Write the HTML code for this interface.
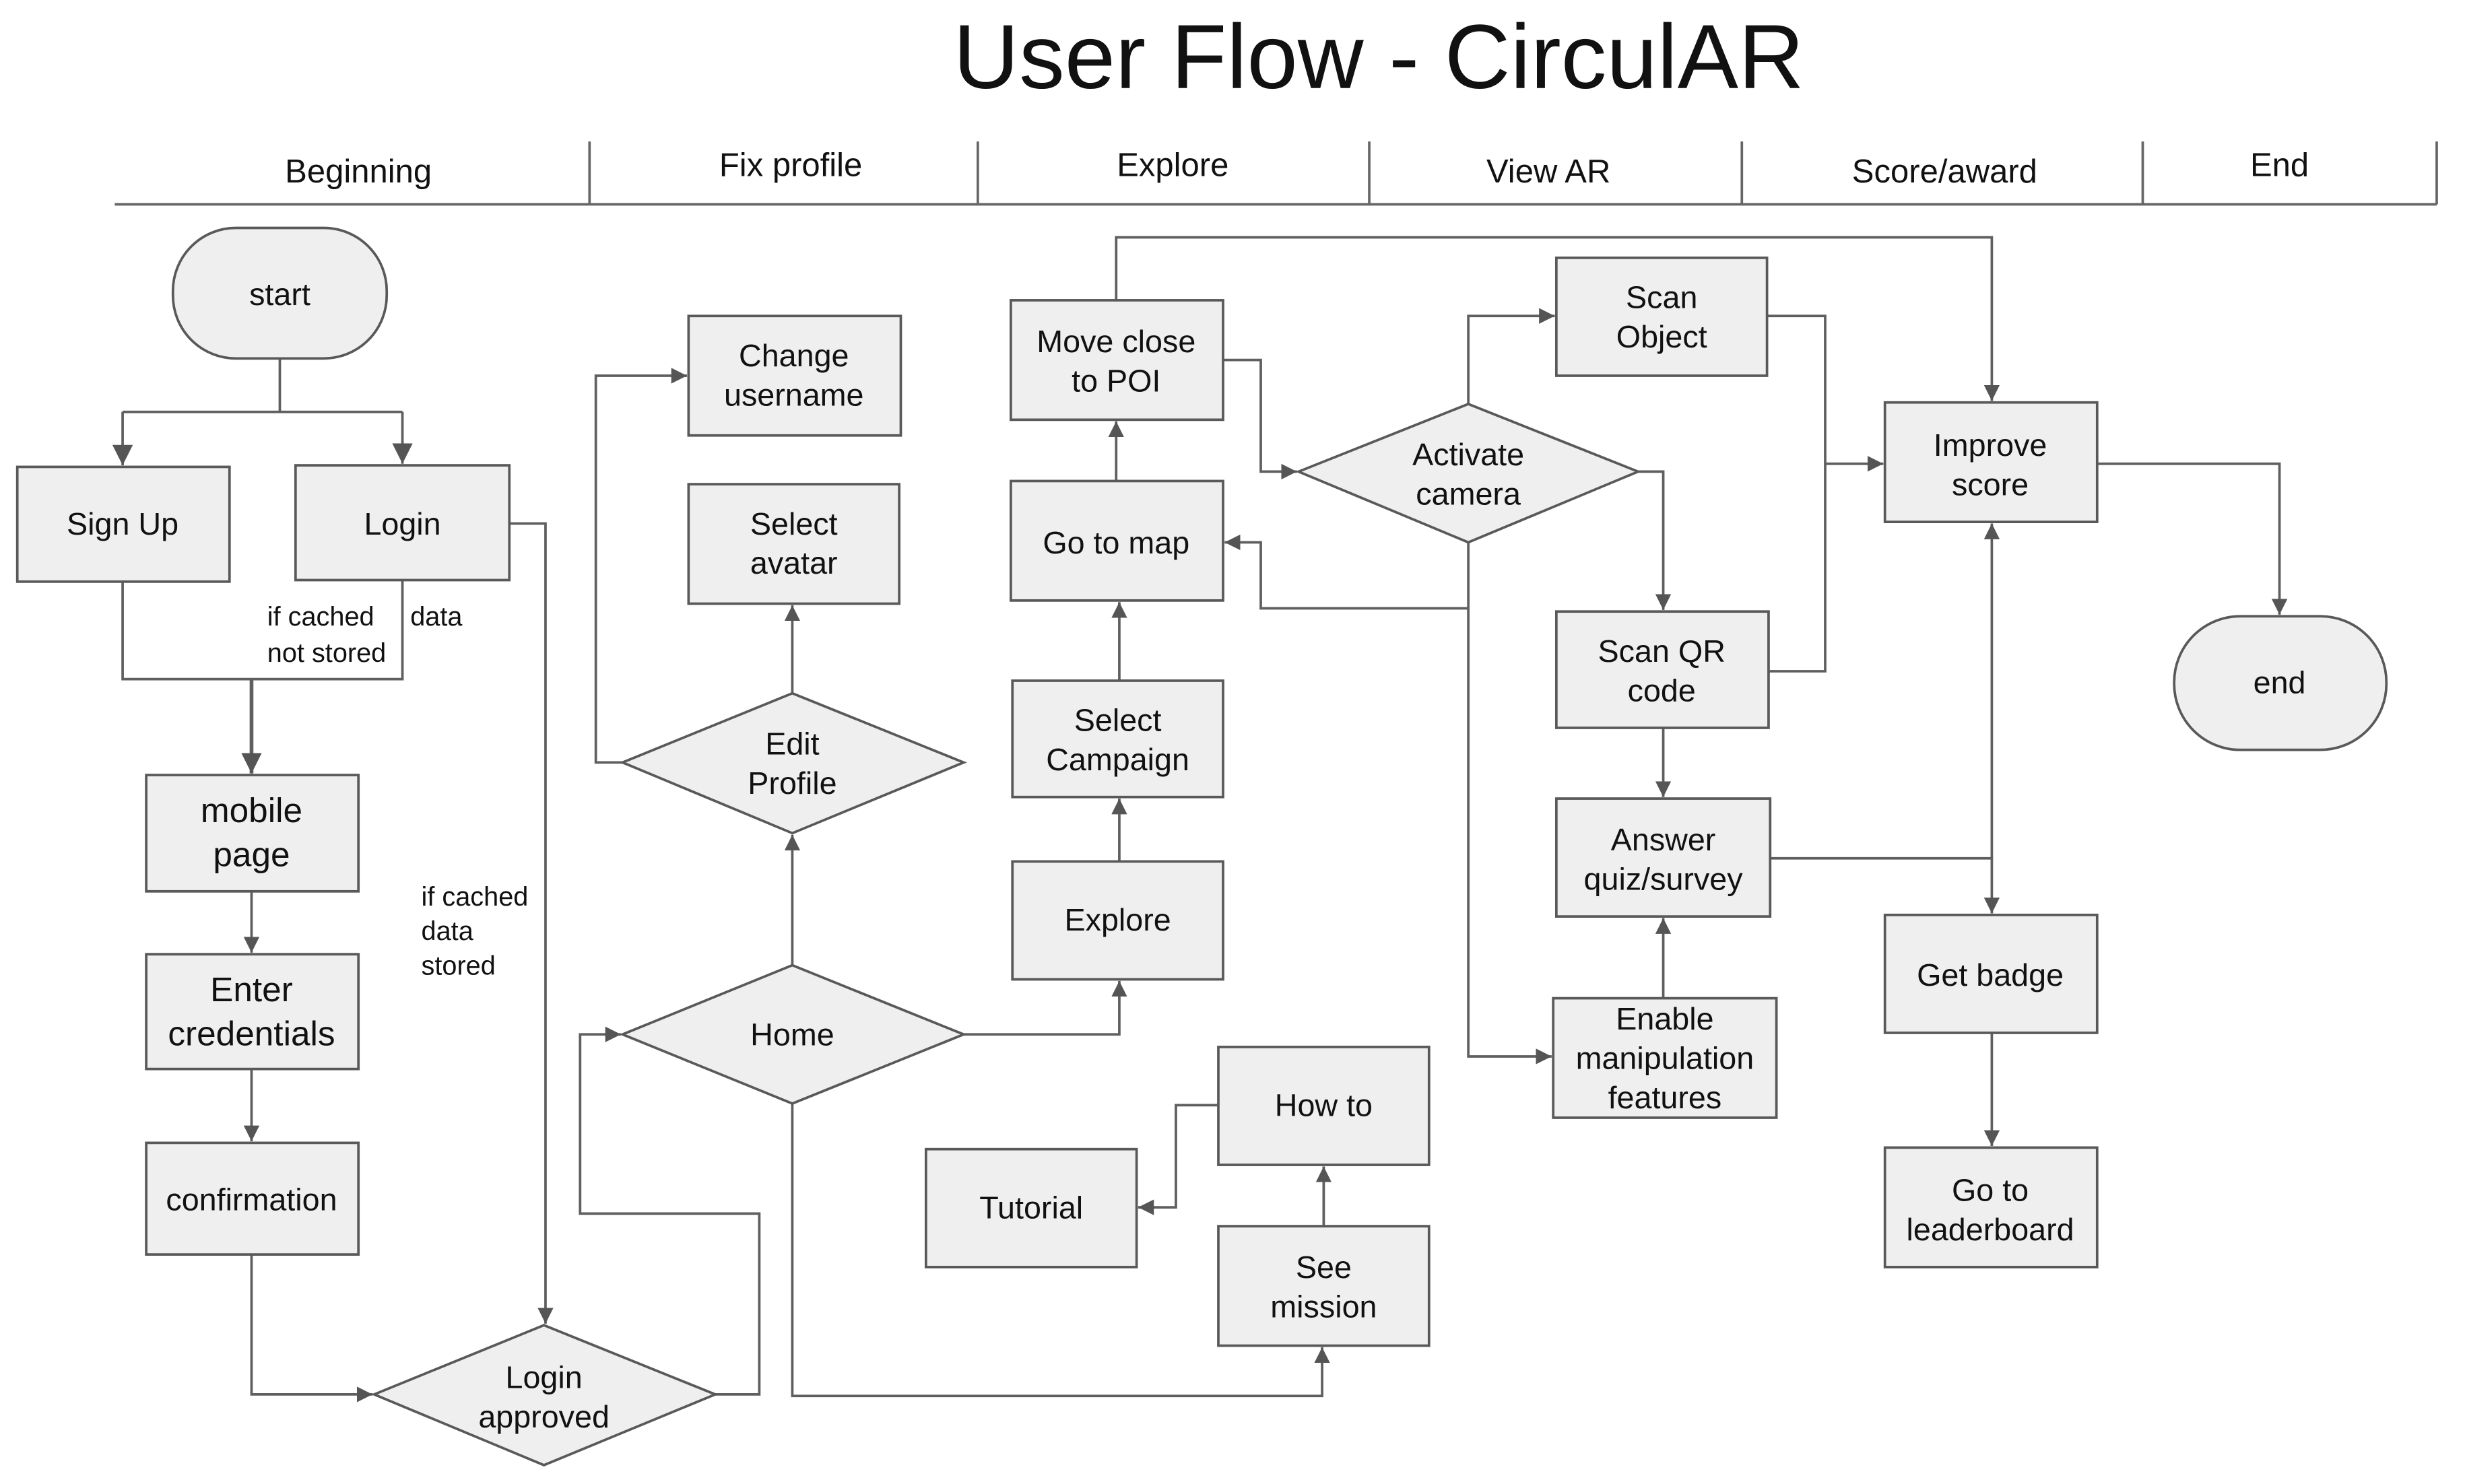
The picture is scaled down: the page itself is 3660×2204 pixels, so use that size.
<!DOCTYPE html>
<html><head><meta charset="utf-8"><style>
html,body{margin:0;padding:0;background:#fff;}
svg{display:block;}
text{font-family:"Liberation Sans",Arial,sans-serif;fill:#111;}
.n{fill:#efefef;stroke:#595959;stroke-width:1.6;}
.l{fill:none;stroke:#5f5f5f;stroke-width:1.6;}
.t{font-size:20px;text-anchor:middle;}
.h{font-size:21px;text-anchor:middle;}
.s{font-size:17px;}
</style></head><body>
<svg width="3660" height="2204" viewBox="0 0 1568 944" preserveAspectRatio="none" xmlns="http://www.w3.org/2000/svg">
<defs><marker id="a" viewBox="0 0 10 10" refX="10" refY="5" markerWidth="10" markerHeight="10" markerUnits="userSpaceOnUse" orient="auto"><path d="M0,0 L10,5 L0,10 z" fill="#555"/></marker>
<marker id="b" viewBox="0 0 10 10" refX="10" refY="5" markerWidth="13" markerHeight="13" markerUnits="userSpaceOnUse" orient="auto"><path d="M0,0 L10,5 L0,10 z" fill="#555"/></marker></defs>
<rect width="1568" height="944" fill="#fff"/>
<text x="877" y="56" style="font-size:58px;text-anchor:middle">User Flow - CirculAR</text>
<path class="l" d="M73,130 H1550 M375,90 V130 M622,90 V130 M871,90 V130 M1108,90 V130 M1363,90 V130 M1550,90 V130" style="stroke:#666"/>
<text class="h" x="228" y="116">Beginning</text>
<text class="h" x="503" y="112">Fix profile</text>
<text class="h" x="746" y="112">Explore</text>
<text class="h" x="985" y="116">View AR</text>
<text class="h" x="1237" y="116">Score/award</text>
<text class="h" x="1450" y="112">End</text>

<g class="l">
<path d="M178,228 V262 M78,262 H256"/>
<path d="M78,262 V296" marker-end="url(#b)"/>
<path d="M256,262 V295" marker-end="url(#b)"/>
<path d="M78,370 V432 H256 V369"/>
<path d="M160,432 V492" marker-end="url(#b)" style="stroke-width:2.4"/>
<path d="M160,567 V606" marker-end="url(#a)"/>
<path d="M160,680 V726" marker-end="url(#a)"/>
<path d="M160,798 V887 H237" marker-end="url(#a)"/>
<path d="M324,333 H347 V842" marker-end="url(#a)"/>
<path d="M455,887 H483 V772 H369 V658 H395" marker-end="url(#a)"/>
<path d="M504,614 V531" marker-end="url(#a)"/>
<path d="M504,441 V385" marker-end="url(#a)"/>
<path d="M396,485 H379 V239 H437" marker-end="url(#a)"/>
<path d="M504,702 V888 H841 V857" marker-end="url(#a)"/>
<path d="M613,658 H712 V624" marker-end="url(#a)"/>
<path d="M712,548 V508" marker-end="url(#a)"/>
<path d="M712,433 V383" marker-end="url(#a)"/>
<path d="M710,306 V268" marker-end="url(#a)"/>
<path d="M710,191 V151 H1267 V255" marker-end="url(#a)"/>
<path d="M778,229 H802 V300 H825" marker-end="url(#a)"/>
<path d="M934,257 V201 H989" marker-end="url(#a)"/>
<path d="M1042,300 H1058 V388" marker-end="url(#a)"/>
<path d="M934,345 V387 H802 V345 H779" marker-end="url(#a)"/>
<path d="M934,387 V672 H987" marker-end="url(#a)"/>
<path d="M1058,463 V507" marker-end="url(#a)"/>
<path d="M1058,635 V584" marker-end="url(#a)"/>
<path d="M1124,201 H1161 V427 H1125"/>
<path d="M1161,295 H1198" marker-end="url(#a)"/>
<path d="M1334,295 H1450 V391" marker-end="url(#a)"/>
<path d="M1126,546 H1267 V581" marker-end="url(#a)"/>
<path d="M1267,546 V333" marker-end="url(#a)"/>
<path d="M1267,657 V729" marker-end="url(#a)"/>
<path d="M842,780 V742" marker-end="url(#a)"/>
<path d="M775,703 H748 V768 H724" marker-end="url(#a)"/>
</g>

<rect class="n" x="110" y="145" width="136" height="83" rx="40"/>
<text class="t" x="178" y="194">start</text>
<rect class="n" x="11" y="297" width="135" height="73"/>
<text class="t" x="78" y="340">Sign Up</text>
<rect class="n" x="188" y="296" width="136" height="73"/>
<text class="t" x="256" y="340">Login</text>
<text class="s" x="170" y="398">if cached</text>
<text class="s" x="261" y="398">data</text>
<text class="s" x="170" y="421">not stored</text>
<text class="s" x="268" y="576">if cached</text>
<text class="s" x="268" y="598">data</text>
<text class="s" x="268" y="620">stored</text>
<rect class="n" x="93" y="493" width="135" height="74"/>
<text class="t" x="160" y="523" style="font-size:22px">mobile</text>
<text class="t" x="160" y="551" style="font-size:22px">page</text>
<rect class="n" x="93" y="607" width="135" height="73"/>
<text class="t" x="160" y="637" style="font-size:22px">Enter</text>
<text class="t" x="160" y="665" style="font-size:22px">credentials</text>
<rect class="n" x="93" y="727" width="135" height="71"/>
<text class="t" x="160" y="770">confirmation</text>
<polygon class="n" points="238,887 346,843 455,887 346,932"/>
<text class="t" x="346" y="883">Login</text>
<text class="t" x="346" y="908">approved</text>

<rect class="n" x="438" y="201" width="135" height="76"/>
<text class="t" x="505" y="233">Change</text>
<text class="t" x="505" y="258">username</text>
<rect class="n" x="438" y="308" width="134" height="76"/>
<text class="t" x="505" y="340">Select</text>
<text class="t" x="505" y="365">avatar</text>
<polygon class="n" points="396,485 504,441 613,485 504,530"/>
<text class="t" x="504" y="480">Edit</text>
<text class="t" x="504" y="505">Profile</text>
<polygon class="n" points="396,658 504,614 613,658 504,702"/>
<text class="t" x="504" y="665">Home</text>

<rect class="n" x="643" y="191" width="135" height="76"/>
<text class="t" x="710" y="224">Move close</text>
<text class="t" x="710" y="249">to POI</text>
<rect class="n" x="643" y="306" width="135" height="76"/>
<text class="t" x="710" y="352">Go to map</text>
<rect class="n" x="644" y="433" width="134" height="74"/>
<text class="t" x="711" y="465">Select</text>
<text class="t" x="711" y="490">Campaign</text>
<rect class="n" x="644" y="548" width="134" height="75"/>
<text class="t" x="711" y="592">Explore</text>
<rect class="n" x="589" y="731" width="134" height="75"/>
<text class="t" x="656" y="775">Tutorial</text>
<rect class="n" x="775" y="666" width="134" height="75"/>
<text class="t" x="842" y="710">How to</text>
<rect class="n" x="775" y="780" width="134" height="76"/>
<text class="t" x="842" y="813">See</text>
<text class="t" x="842" y="838">mission</text>

<polygon class="n" points="826,300 934,257 1042,300 934,345"/>
<text class="t" x="934" y="296">Activate</text>
<text class="t" x="934" y="321">camera</text>
<rect class="n" x="990" y="164" width="134" height="75"/>
<text class="t" x="1057" y="196">Scan</text>
<text class="t" x="1057" y="221">Object</text>
<rect class="n" x="990" y="389" width="135" height="74"/>
<text class="t" x="1057" y="421">Scan QR</text>
<text class="t" x="1057" y="446">code</text>
<rect class="n" x="990" y="508" width="136" height="75"/>
<text class="t" x="1058" y="541">Answer</text>
<text class="t" x="1058" y="566">quiz/survey</text>
<rect class="n" x="988" y="635" width="142" height="76"/>
<text class="t" x="1059" y="655">Enable</text>
<text class="t" x="1059" y="680">manipulation</text>
<text class="t" x="1059" y="705">features</text>

<rect class="n" x="1199" y="256" width="135" height="76"/>
<text class="t" x="1266" y="290">Improve</text>
<text class="t" x="1266" y="315">score</text>
<rect class="n" x="1199" y="582" width="135" height="75"/>
<text class="t" x="1266" y="627">Get badge</text>
<rect class="n" x="1199" y="730" width="135" height="76"/>
<text class="t" x="1266" y="764">Go to</text>
<text class="t" x="1266" y="789">leaderboard</text>
<rect class="n" x="1383" y="392" width="135" height="85" rx="42"/>
<text class="t" x="1450" y="441">end</text>
</svg>
</body></html>
